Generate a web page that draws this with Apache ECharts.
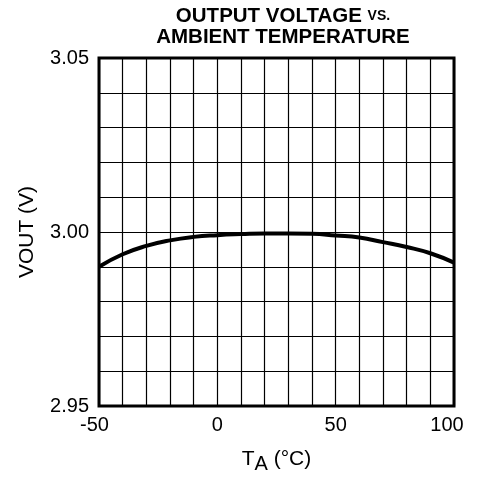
<!DOCTYPE html>
<html><head><meta charset="utf-8">
<script src="https://cdn.jsdelivr.net/npm/echarts@6/dist/echarts.min.js"></script>
<style>html,body{margin:0;padding:0;background:#fff}#c{width:484px;height:479px}</style>
</head><body><div id="c"></div>
<script>
const temps = [-50, -40, -30, -20, -10, 0, 10, 20, 30, 40, 50, 60, 70, 80, 90, 100];
const vout  = [2.9900, 2.9936, 2.9960, 2.9976, 2.9986, 2.9991, 2.9994, 2.9996, 2.9996, 2.9995, 2.9990, 2.9984, 2.9971, 2.9957, 2.9939, 2.9912];
const xLabels = [-50, 0, 50, 100];
const yLabels = ['2.95', '3.00', '3.05'];
const font = 'Liberation Sans, Arial, sans-serif';
const chart = echarts.init(document.getElementById('c'));
chart.setOption({
  animation: false,
  title: {
    text: '{a|OUTPUT VOLTAGE }{b|VS.}\n{a|AMBIENT TEMPERATURE}',
    left: 278, top: 1, textAlign: 'center',
    textStyle: { rich: {
      a: { fontFamily: font, fontWeight: 'bold', fontSize: 20.5, color: '#000', lineHeight: 21 },
      b: { fontFamily: font, fontWeight: 'bold', fontSize: 14, color: '#000', lineHeight: 21 }
    } }
  },
  grid: { left: 99, right: 30, top: 58, bottom: 69, show: true, borderColor: '#000', borderWidth: 3 },
  xAxis: {
    type: 'value', min: -50, max: 100, interval: 10,
    axisLine: { show: false }, axisTick: { show: false },
    axisLabel: { color: '#000', fontFamily: font, fontSize: 20, margin: 9,
      formatter: v => {
        const r = Math.round(v);
        if (!xLabels.includes(r)) return '';
        if (r === 100) return '{r|100}';
        if (r === -50) return '{m|-50}';
        return String(r);
      },
      rich: {
        r: { fontFamily: font, fontSize: 20, color: '#000', padding: [0, 14, 0, 0] },
        m: { fontFamily: font, fontSize: 20, color: '#000', padding: [0, 9, 0, 0] }
      } },
    splitLine: { show: true, lineStyle: { color: '#000', width: 1.2 } },
    name: '{t|T}{s|A}{t| (°C)}', nameLocation: 'middle', nameGap: 38,
    nameTextStyle: { rich: {
      t: { fontFamily: font, fontSize: 21, color: '#000' },
      s: { fontFamily: font, fontSize: 20, color: '#000', padding: [10, 0, 0, 0] }
    } }
  },
  yAxis: {
    type: 'value', min: 2.95, max: 3.05, interval: 0.01,
    axisLine: { show: false }, axisTick: { show: false },
    axisLabel: { color: '#000', fontFamily: font, fontSize: 20, margin: 10, padding: [5, 0, 0, 0],
      formatter: v => { const s = v.toFixed(2); return yLabels.includes(s) ? s : ''; } },
    splitLine: { show: true, lineStyle: { color: '#000', width: 1.2 } },
    name: 'VOUT (V)', nameLocation: 'middle', nameGap: 61, nameRotate: 90,
    nameTextStyle: { fontFamily: font, fontSize: 21, color: '#000' }
  },
  series: [{
    type: 'line', smooth: true, symbol: 'none',
    data: temps.map((t, i) => [t, vout[i]]),
    lineStyle: { color: '#000', width: 4 }
  }]
});
</script></body></html>
